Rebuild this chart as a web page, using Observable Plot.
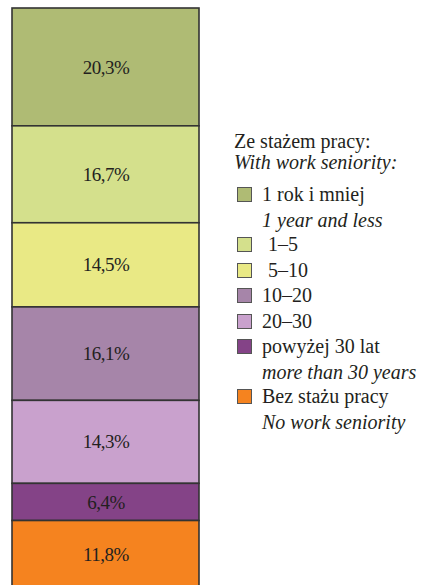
<!DOCTYPE html>
<html>
<head>
<meta charset="utf-8">
<script src="https://cdn.jsdelivr.net/npm/d3@7"></script>
<script src="https://cdn.jsdelivr.net/npm/@observablehq/plot@0.6"></script>
<style>
  @font-face { font-family: "ChartSerif"; font-style: normal; src: local("Liberation Serif"), local("LiberationSerif"), local("Tinos"); }
  @font-face { font-family: "ChartSerif"; font-style: italic; src: local("Liberation Serif Italic"), local("LiberationSerif-Italic"), local("Tinos Italic"); }
  html, body { margin: 0; padding: 0; background: #fff; }
  #wrap { position: relative; width: 429px; height: 585px; overflow: hidden; color: #231f20; font-family: "Times New Roman"; }
  #key { position: absolute; left: 234px; top: 131px; width: 195px; font-family: "Times New Roman"; }
  #wrap svg text, #key div, #key span { font-family: "Times New Roman" !important; }
</style>
</head>
<body>
<div id="wrap"></div>
<script>
const categories = ["1 rok i mniej", "1–5", "5–10", "10–20", "20–30", "powyżej 30 lat", "Bez stażu pracy"];
const englishLabels = ["1 year and less", "", "", "", "", "more than 30 years", "No work seniority"];
const values = [20.3, 16.7, 14.5, 16.1, 14.3, 6.4, 11.8];
const colors = ["#afbb74", "#d4e08c", "#e9e985", "#a685a9", "#c9a1cd", "#844387", "#f5831f"];
const legendTitle = "Ze stażem pracy:";
const legendTitleEn = "With work seniority:";

const F = "Times New Roman";
const data = categories.map((c, i) => ({cat: c, value: values[i], bar: "all"}));

const chart = Plot.plot({
  width: 429,
  height: 585,
  margin: 0,
  x: {axis: null, domain: ["all"], range: [12, 199], padding: 0},
  y: {axis: null, domain: [0, 100.1], range: [8, 589]},
  color: {domain: categories, range: colors},
  style: {background: "#fff", fontFamily: F},
  marks: [
    Plot.barY(data, {x: "bar", y: "value", fill: "cat", stroke: "#333", strokeWidth: 1.6}),
    Plot.text(data, Plot.stackY({x: "bar", y: "value", text: d => d.value.toFixed(1).replace(".", ",") + "%", fill: "#231f20", fontSize: 19, fontFamily: F}))
  ]
});
chart.querySelectorAll("text").forEach(t => t.setAttribute("style", `font-family:'${F}';font-size:19px;letter-spacing:-0.5px`));

const wrap = document.getElementById("wrap");
wrap.appendChild(chart);

const key = document.createElement("div");
key.id = "key";
const txt = (s, extra) => `<div style="font-family:'${F}';font-size:20px;${extra}">${s}</div>`;
let html = txt(legendTitle, "line-height:21px") + txt(legendTitleEn, "line-height:21px;font-style:italic");
categories.forEach((c, i) => {
  const ind = (c === "1–5" || c === "5–10") ? 6 : 0;
  html += `<div style="display:flex;align-items:center;height:25.5px;margin-top:${i === 0 ? 9 : 0}px">` +
    `<span style="width:15px;height:15px;border:1px solid #555;box-sizing:border-box;margin:0 10px 0 3px;flex:none;background:${colors[i]}"></span>` +
    `<span style="font-family:'${F}';font-size:20px;padding-left:${ind}px">${c}</span></div>`;
  if (englishLabels[i]) html += txt(englishLabels[i], "font-style:italic;line-height:24.5px;padding-left:28px");
});
key.innerHTML = html;
wrap.appendChild(key);
</script>
</body>
</html>
